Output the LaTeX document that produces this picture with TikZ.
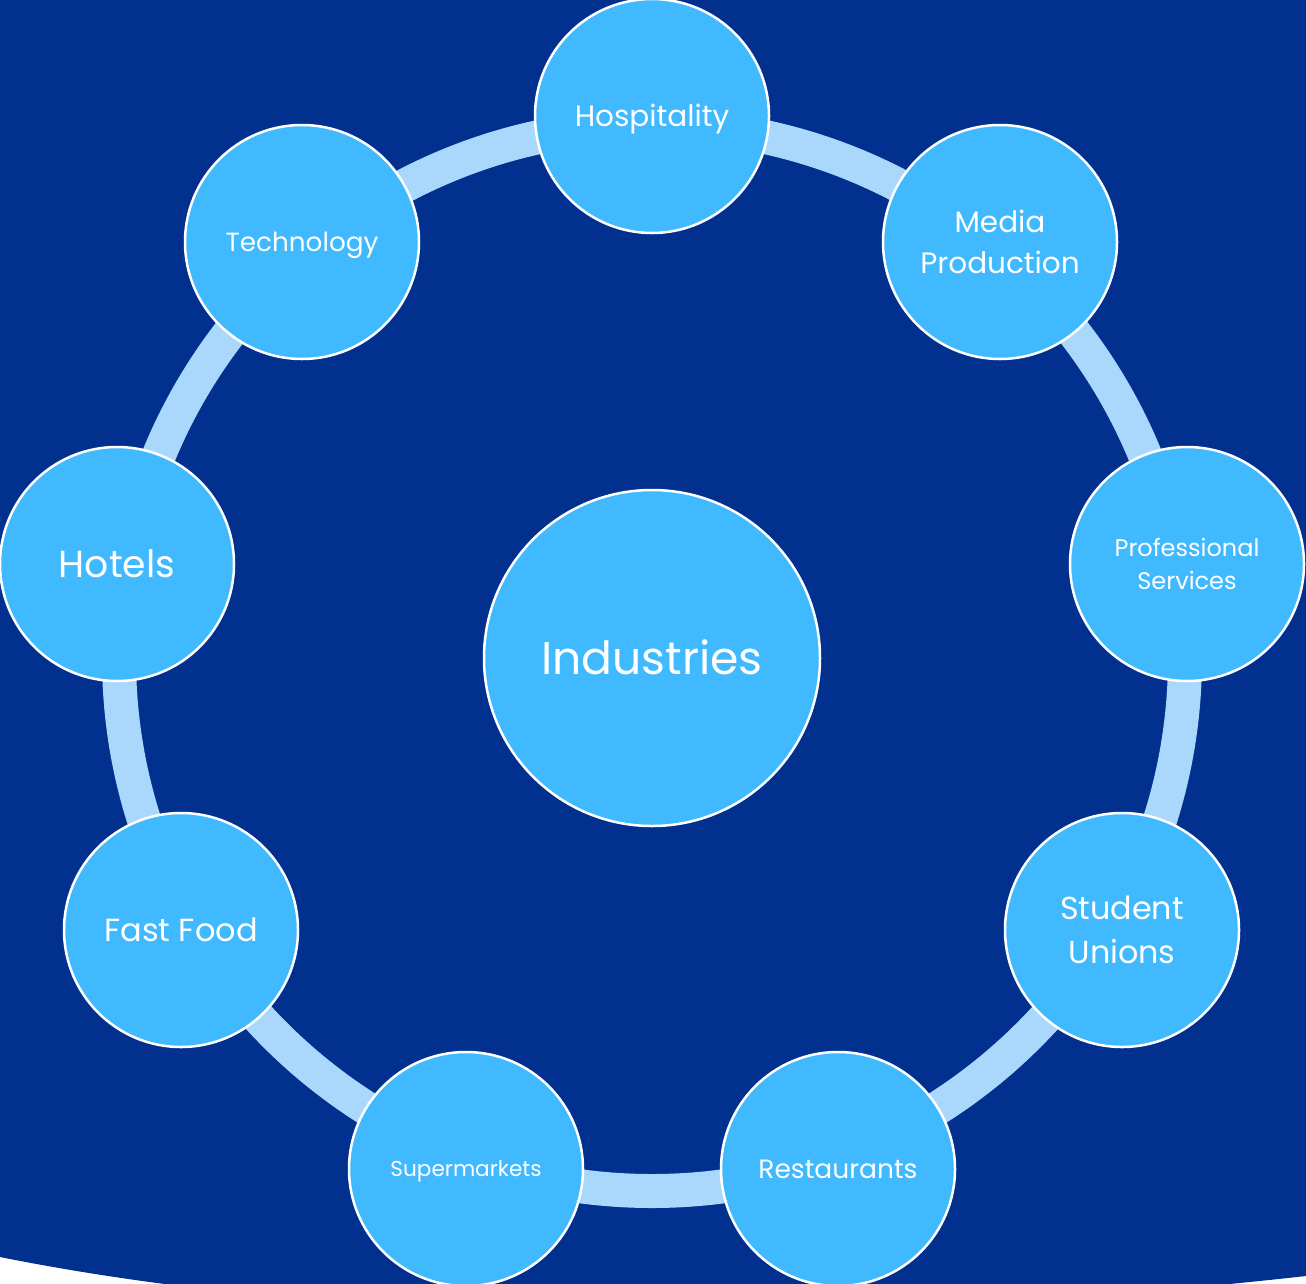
\documentclass[tikz,border=0pt]{standalone}
\usepackage{fontspec}
\setmainfont{Poppins}
\definecolor{bgblue}{HTML}{02308E}
\definecolor{ringblue}{HTML}{AAD8FC}
\definecolor{nodeblue}{HTML}{40B9FF}
\tikzset{
  bub/.style={circle, fill=nodeblue, draw=white, line width=2.5pt, minimum size=234pt, inner sep=0pt, text=white, align=center},
  bigbub/.style={bub, minimum size=336pt},
  one/.style={text height=#1, text depth=0pt},
}
\newcommand{\fs}[1]{\fontsize{#1pt}{\dimexpr #1pt*14/10\relax}\selectfont}
\begin{document}
\begin{tikzpicture}[x=1pt,y=-1pt]
\useasboundingbox (0,0) rectangle (1306,1283);
\fill[white] (0,0) rectangle (1306,1283);
\fill[bgblue] (0,0) -- (1306,0) -- (1306,1276) .. controls (900,1321) and (400,1337) .. (0,1257) -- cycle;
\coordinate (ctr) at (652,658);
\draw[ringblue, line width=34pt] (ctr) circle[radius=533];
\node[bigbub, one=32pt, font=\fs{45.7}] (ind) at (ctr) {Industries};
\node[bub, one=20.6pt, font=\fs{29.5}] (hosp) at (652,116) {Hospitality};
\node[bub, font=\fs{29.5}] (media) at (1000,242) {Media\\Production};
\node[bub, font=\fs{24}] (prof) at (1187,564) {Professional\\Services};
\node[bub, font=\fs{31.8}] (stud) at (1122,930) {Student\\Unions};
\node[bub, one=18.5pt, font=\fs{26.5}] (rest) at (838,1169) {Restaurants};
\node[bub, one=15.1pt, font=\fs{21.6}] (super) at (466,1169) {Supermarkets};
\node[bub, one=22.4pt, font=\fs{32}] (fast) at (181,930) {Fast Food};
\node[bub, one=26.4pt, font=\fs{37.7}] (hotels) at (117,564) {Hotels};
\node[bub, one=18.4pt, font=\fs{26.3}] (tech) at (302,242) {Technology};
\end{tikzpicture}
\end{document}
